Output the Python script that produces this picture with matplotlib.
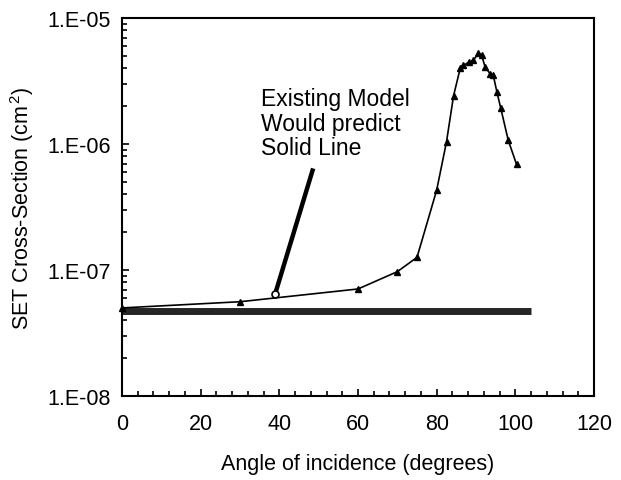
"""
SET cross-section vs angle of incidence, with the flat 'existing model' prediction.
"""
import matplotlib
matplotlib.use("Agg")
import matplotlib.pyplot as plt
from matplotlib.ticker import MultipleLocator, LogLocator, FixedFormatter, FixedLocator, NullFormatter

plt.rcParams["font.family"] = ["Liberation Sans", "DejaVu Sans"]
plt.rcParams["mathtext.fontset"] = "custom"
plt.rcParams["mathtext.rm"] = "Liberation Sans"
plt.rcParams["mathtext.it"] = "Liberation Sans"

angle = [0, 30, 60, 70, 75, 80, 82.5, 84.3, 86.0, 86.8, 88.1, 89.3, 90.6, 91.4,
         92.3, 93.6, 94.4, 95.3, 96.3, 98.2, 100.3]
xsec = [5.0e-8, 5.6e-8, 7.07e-8, 9.7e-8, 1.26e-7, 4.3e-7, 1.04e-6, 2.42e-6, 4.0e-6,
        4.2e-6, 4.45e-6, 4.6e-6, 5.25e-6, 5.1e-6, 4.1e-6, 3.6e-6, 3.5e-6, 2.6e-6,
        1.92e-6, 1.07e-6, 6.9e-7]

# existing model: flat line
model_x = [0, 104]
model_y = [4.75e-8, 4.75e-8]

# annotation pointer (from text down to curve)
pointer_x = [48.6, 38.9]
pointer_y = [6.4e-7, 6.4e-8]

ytick_vals = [1e-8, 1e-7, 1e-6, 1e-5]
ytick_labels = ["1.E-08", "1.E-07", "1.E-06", "1.E-05"]

fs = 15.5

fig = plt.figure(figsize=(6.21, 4.81), dpi=100)
ax = fig.add_axes([122 / 621, 1 - 397 / 481, 472 / 621, 378 / 481])

ax.plot(model_x, model_y, color="#262626", lw=5, solid_capstyle="butt", zorder=2)
ax.plot(angle, xsec, color="black", lw=1.2, marker="^", ms=4.5, mfc="black",
        mec="black", clip_on=False, zorder=3)
ax.plot(pointer_x, pointer_y, color="black", lw=3.2, solid_capstyle="butt", zorder=4)
ax.plot(pointer_x[1], pointer_y[1], marker="o", ms=5, mfc="white", mec="black",
        mew=1.2, zorder=5)

ax.text(35.3, 7.6e-7, "Existing Model\nWould predict\nSolid Line", fontsize=16.5,
        ha="left", va="bottom", linespacing=1.07)

ax.set_yscale("log")
ax.set_xlim(0, 120)
ax.set_ylim(1e-8, 1e-5)

ax.xaxis.set_major_locator(MultipleLocator(20))
ax.xaxis.set_minor_locator(MultipleLocator(4))
ax.yaxis.set_major_locator(FixedLocator(ytick_vals))
ax.yaxis.set_major_formatter(FixedFormatter(ytick_labels))
ax.yaxis.set_minor_locator(LogLocator(base=10, subs=range(2, 10)))
ax.yaxis.set_minor_formatter(NullFormatter())

ax.tick_params(which="both", direction="in", width=1.2, labelsize=fs)
ax.tick_params(which="major", length=5, pad=8)
ax.tick_params(which="minor", length=3.5)
ax.tick_params(axis="x", which="both", top=False)
ax.tick_params(axis="y", which="both", right=False)
ax.tick_params(axis="x", which="major", pad=12)

for s in ax.spines.values():
    s.set_linewidth(1.5)

ax.set_xlabel("Angle of incidence (degrees)", fontsize=fs, labelpad=14)
ax.set_ylabel(r"SET Cross-Section (cm$^{\,2}$)", fontsize=fs, labelpad=8)

fig.savefig("out.png", dpi=100)
